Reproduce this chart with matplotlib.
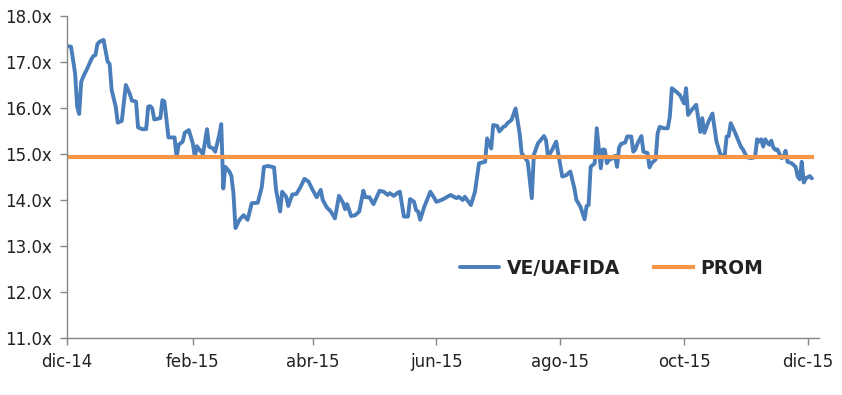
import matplotlib
matplotlib.use("Agg")
import matplotlib.pyplot as plt
import pandas as pd

dates = [
    "2014-12-01", "2014-12-03", "2014-12-05", "2014-12-06", "2014-12-07", "2014-12-08", "2014-12-09",
    "2014-12-11", "2014-12-13", "2014-12-14", "2014-12-15", "2014-12-16", "2014-12-17", "2014-12-19",
    "2014-12-21", "2014-12-22", "2014-12-23", "2014-12-25", "2014-12-26", "2014-12-28", "2014-12-30",
    "2015-01-01", "2015-01-02", "2015-01-04", "2015-01-05", "2015-01-07", "2015-01-09", "2015-01-10",
    "2015-01-11", "2015-01-12", "2015-01-13", "2015-01-16", "2015-01-17", "2015-01-18", "2015-01-20",
    "2015-01-21", "2015-01-23", "2015-01-24", "2015-01-25", "2015-01-27", "2015-01-28", "2015-01-30",
    "2015-02-01", "2015-02-02", "2015-02-03", "2015-02-05", "2015-02-06", "2015-02-08", "2015-02-09",
    "2015-02-11", "2015-02-12", "2015-02-14", "2015-02-15", "2015-02-16", "2015-02-17", "2015-02-19",
    "2015-02-20", "2015-02-21", "2015-02-22", "2015-02-24", "2015-02-26", "2015-02-28", "2015-03-02",
    "2015-03-05", "2015-03-07", "2015-03-08", "2015-03-10", "2015-03-13", "2015-03-14", "2015-03-16",
    "2015-03-17", "2015-03-19", "2015-03-20", "2015-03-22", "2015-03-24", "2015-03-26", "2015-03-28",
    "2015-03-30", "2015-04-01", "2015-04-03", "2015-04-05", "2015-04-06", "2015-04-08", "2015-04-10",
    "2015-04-12", "2015-04-14", "2015-04-16", "2015-04-17", "2015-04-18", "2015-04-20", "2015-04-22",
    "2015-04-24", "2015-04-26", "2015-04-27", "2015-04-29", "2015-05-01", "2015-05-04", "2015-05-06",
    "2015-05-08", "2015-05-09", "2015-05-11", "2015-05-13", "2015-05-14", "2015-05-16", "2015-05-18",
    "2015-05-19", "2015-05-21", "2015-05-22", "2015-05-23", "2015-05-24", "2015-05-26", "2015-05-29",
    "2015-05-31", "2015-06-01", "2015-06-04", "2015-06-08", "2015-06-10", "2015-06-11", "2015-06-12",
    "2015-06-14", "2015-06-15", "2015-06-18", "2015-06-20", "2015-06-22", "2015-06-25", "2015-06-26",
    "2015-06-28", "2015-06-29", "2015-07-01", "2015-07-02", "2015-07-04", "2015-07-05", "2015-07-06",
    "2015-07-08", "2015-07-10", "2015-07-12", "2015-07-13", "2015-07-16", "2015-07-18", "2015-07-19",
    "2015-07-21", "2015-07-24", "2015-07-25", "2015-07-26", "2015-07-28", "2015-07-30", "2015-08-02",
    "2015-08-04", "2015-08-06", "2015-08-08", "2015-08-09", "2015-08-11", "2015-08-13", "2015-08-14",
    "2015-08-15", "2015-08-16", "2015-08-18", "2015-08-19", "2015-08-21", "2015-08-22", "2015-08-23",
    "2015-08-24", "2015-08-25", "2015-08-27", "2015-08-28", "2015-08-29", "2015-08-30", "2015-08-31",
    "2015-09-02", "2015-09-03", "2015-09-05", "2015-09-06", "2015-09-07", "2015-09-08", "2015-09-10",
    "2015-09-11", "2015-09-13", "2015-09-14", "2015-09-15", "2015-09-17", "2015-09-18", "2015-09-19",
    "2015-09-21", "2015-09-23", "2015-09-24", "2015-09-25", "2015-09-27", "2015-09-29", "2015-10-01",
    "2015-10-02", "2015-10-03", "2015-10-05", "2015-10-07", "2015-10-09", "2015-10-10", "2015-10-11",
    "2015-10-13", "2015-10-15", "2015-10-17", "2015-10-19", "2015-10-21", "2015-10-22", "2015-10-23",
    "2015-10-24", "2015-10-26", "2015-10-29", "2015-10-30", "2015-11-01", "2015-11-03", "2015-11-05",
    "2015-11-06", "2015-11-07", "2015-11-08", "2015-11-09", "2015-11-10", "2015-11-11", "2015-11-12",
    "2015-11-13", "2015-11-14", "2015-11-15", "2015-11-16", "2015-11-18", "2015-11-19", "2015-11-20",
    "2015-11-21", "2015-11-23", "2015-11-25", "2015-11-26", "2015-11-27", "2015-11-28", "2015-11-29",
    "2015-11-30", "2015-12-02", "2015-12-03",
]

ve_uafida = [
    17.35, 17.33, 16.75, 16.03, 15.87, 16.57, 16.68,
    16.86, 17.06, 17.13, 17.15, 17.39, 17.44, 17.48,
    17.01, 16.96, 16.39, 16.03, 15.68, 15.72, 16.50,
    16.30, 16.16, 16.14, 15.58, 15.54, 15.54, 16.03,
    16.04, 15.99, 15.75, 15.78, 16.17, 16.14, 15.36,
    15.36, 15.36, 14.93, 15.20, 15.27, 15.46, 15.52,
    15.23, 14.93, 15.17, 15.05, 15.00, 15.54, 15.16,
    15.12, 15.05, 15.41, 15.65, 14.25, 14.72, 14.62,
    14.52, 14.15, 13.39, 13.57, 13.67, 13.57, 13.93,
    13.94, 14.29, 14.72, 14.74, 14.71, 14.22, 13.75,
    14.18, 14.07, 13.87, 14.12, 14.13, 14.28, 14.46,
    14.40, 14.22, 14.06, 14.22, 14.00, 13.84, 13.75,
    13.60, 14.09, 13.94, 13.80, 13.91, 13.65, 13.67,
    13.75, 14.20, 14.06, 14.06, 13.91, 14.20, 14.18,
    14.11, 14.15, 14.09, 14.16, 14.18, 13.64, 13.64,
    14.02, 13.96, 13.78, 13.75, 13.57, 13.85, 14.18,
    14.04, 13.96, 14.01, 14.11, 14.06, 14.04, 14.07,
    14.00, 14.07, 13.89, 14.18, 14.80, 14.83, 15.34,
    15.12, 15.63, 15.61, 15.49, 15.59, 15.61, 15.67,
    15.74, 15.99, 15.45, 15.02, 14.83, 14.04, 14.98,
    15.23, 15.39, 15.30, 14.94, 15.09, 15.27, 14.51,
    14.54, 14.62, 14.25, 14.00, 13.85, 13.58, 13.87,
    13.89, 14.72, 14.80, 15.56, 14.69, 15.10, 15.09,
    14.80, 14.87, 14.91, 14.96, 14.72, 15.14, 15.22,
    15.25, 15.38, 15.38, 15.05, 15.10, 15.22, 15.39,
    15.05, 15.02, 14.71, 14.80, 14.88, 15.45, 15.59,
    15.56, 15.56, 15.81, 16.43, 16.36, 16.28, 16.10,
    16.43, 15.85, 15.97, 16.07, 15.48, 15.78, 15.46,
    15.70, 15.88, 15.27, 14.98, 14.96, 15.38, 15.39,
    15.67, 15.48, 15.16, 15.10, 14.93, 14.91, 14.93,
    15.32, 15.27, 15.32, 15.16, 15.32, 15.25, 15.20,
    15.29, 15.14, 15.09, 15.10, 14.91, 14.93, 15.07,
    14.83, 14.80, 14.72, 14.51, 14.45, 14.83, 14.38,
    14.47, 14.52, 14.47,
]

prom_value = 14.94
prom = [prom_value] * len(ve_uafida)

tick_dates = ["2014-12-01", "2015-02-01", "2015-04-01", "2015-06-01",
              "2015-08-01", "2015-10-01", "2015-12-01"]
tick_labels = ["dic-14", "feb-15", "abr-15", "jun-15", "ago-15", "oct-15", "dic-15"]
y_ticks = [11, 12, 13, 14, 15, 16, 17, 18]
y_tick_labels = ["11.0x", "12.0x", "13.0x", "14.0x", "15.0x", "16.0x", "17.0x", "18.0x"]

series_names = ["VE/UAFIDA", "PROM"]

x = pd.to_datetime(dates)

fig = plt.figure(figsize=(8.42, 3.95), dpi=100)
ax = fig.add_axes([67 / 842, 1 - 338 / 395, (819 - 67) / 842, (338 - 16) / 395])

ax.plot(x, ve_uafida, color="#4A7EBB", lw=2.8, label=series_names[0],
        solid_joinstyle="round", solid_capstyle="round")
ax.plot(x, prom, color="#F79646", lw=3.0, label=series_names[1])

ax.set_xlim(pd.Timestamp("2014-12-01"), pd.Timestamp("2015-12-06 12:00"))
ax.set_ylim(11, 18)

ax.set_xticks(pd.to_datetime(tick_dates))
ax.set_xticklabels(tick_labels)
ax.set_yticks(y_ticks)
ax.set_yticklabels(y_tick_labels)

for s in ["top", "right"]:
    ax.spines[s].set_visible(False)
for s in ["left", "bottom"]:
    ax.spines[s].set_color("#868686")
    ax.spines[s].set_linewidth(1.0)

ax.tick_params(axis="both", direction="out", length=5, width=1.0, color="#868686",
               labelsize=12, labelcolor="#222222")
ax.tick_params(axis="x", pad=6)
ax.tick_params(axis="y", pad=6)

leg = ax.legend(loc="center", bbox_to_anchor=(0.724, 0.217), ncol=2, frameon=False,
                prop={"weight": "bold", "size": 13.5}, handlelength=2.1,
                handletextpad=0.4, columnspacing=1.8)
for t in leg.get_texts():
    t.set_color("#222222")

fig.savefig("out.png", dpi=100)
